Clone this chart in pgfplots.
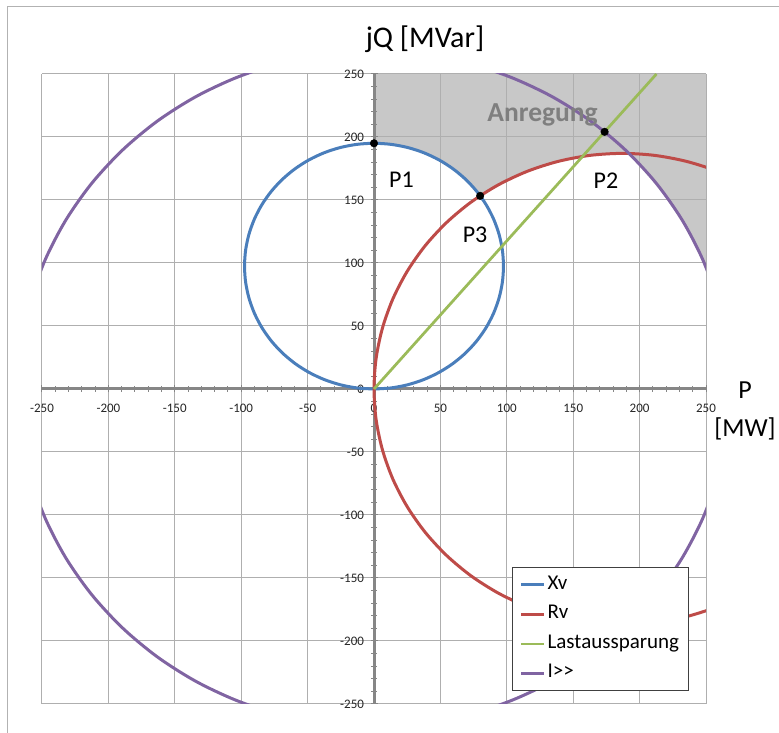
\documentclass[border=0pt]{standalone}
\usepackage{pgfplots}
\pgfplotsset{compat=1.18}
\usepackage{fontspec}
\setmainfont{Carlito}
\definecolor{xvblue}{RGB}{74,126,187}
\definecolor{rvred}{RGB}{190,75,72}
\definecolor{lgreen}{RGB}{155,187,89}
\definecolor{ipurple}{RGB}{128,100,162}
\definecolor{fillgray}{RGB}{200,200,200}
\definecolor{gridgray}{RGB}{175,175,175}
\definecolor{axgray}{RGB}{134,134,134}
\definecolor{anrgray}{RGB}{127,127,127}
\begin{document}
\begin{tikzpicture}
\begin{axis}[
  at={(0pt,0pt)}, anchor=south west,
  scale only axis, width=664pt, height=630pt,
  xmin=-250, xmax=250, ymin=-250, ymax=250,
  enlargelimits=false,
  set layers, clip mode=individual,
  axis lines=middle,
  axis line style={draw=axgray, line width=3pt, -},
  every inner x axis line/.append style={draw=axgray, line width=3pt, -},
  every inner y axis line/.append style={draw=axgray, line width=3pt, -},
  hide obscured x ticks=false, hide obscured y ticks=false,
  xtick={-250,-200,-150,-100,-50,0,50,100,150,200,250},
  ytick={-250,-200,-150,-100,-50,0,50,100,150,200,250},
  xticklabels={-250,-200,-150,-100,-50,0,50,100,150,200,250},
  yticklabels={-250,-200,-150,-100,-50,0,50,100,150,200,250},
  minor x tick num=4, minor y tick num=4,
  tick align=center, major tick length=7pt, minor tick length=6pt,
  tick style={axgray, line width=1pt},
  grid=major, major grid style={draw=gridgray, line width=1pt},
  ticklabel style={font=\fontsize{13}{15}\selectfont, text=black!85},
  xticklabel style={anchor=north, yshift=-8pt},
  yticklabel style={anchor=east, xshift=-3pt},
  legend style={at={(0.708,0.2175)}, anchor=north west, draw=black!75, line width=1pt,
    fill=white, font=\fontsize{21}{25}\selectfont, row sep=6.5pt,
    inner xsep=7pt, inner ysep=6pt,
    nodes={inner sep=2pt, text height=14pt, text depth=5pt}},
  legend cell align=left,
  legend image code/.code={\draw[#1] (0pt,0pt) -- (23pt,0pt);},
]
% shaded "Anregung" region
\addplot[on layer=axis background, fill=fillgray, draw=none, forget plot] coordinates {
 (0,250) (0,195) (12.73,194.17) (25.23,191.68) (37.31,187.58) (48.75,181.94)
 (59.35,174.85) (68.94,166.44) (77.35,156.85) (79.93,153.3)
 (93.5,161.94) (115.44,172.77) (138.60,180.62) (162.59,185.40) (187,187) (192.04,186.93)
 (202.26,175.83) (212.62,163.15) (232.09,134) (247.60,102.56) (250,96.56) (250,250)
} -- cycle;
% Xv
\addplot[xvblue, line width=3pt, smooth] coordinates {
 (0,0) (12.73,0.83) (25.23,3.32) (37.31,7.42) (48.75,13.06) (59.35,20.15) (68.94,28.56)
 (77.35,38.15) (84.44,48.75) (90.08,60.19) (94.18,72.27) (96.67,84.77) (97.5,97.5)
 (96.67,110.23) (94.18,122.73) (90.08,134.81) (84.44,146.25) (77.35,156.85) (68.94,166.44)
 (59.35,174.85) (48.75,181.94) (37.31,187.58) (25.23,191.68) (12.73,194.17) (0,195)
 (-12.73,194.17) (-25.23,191.68) (-37.31,187.58) (-48.75,181.94) (-59.35,174.85) (-68.94,166.44)
 (-77.35,156.85) (-84.44,146.25) (-90.08,134.81) (-94.18,122.73) (-96.67,110.23) (-97.5,97.5)
 (-96.67,84.77) (-94.18,72.27) (-90.08,60.19) (-84.44,48.75) (-77.35,38.15) (-68.94,28.56)
 (-59.35,20.15) (-48.75,13.06) (-37.31,7.42) (-25.23,3.32) (-12.73,0.83) (0,0)
};
\addlegendentry{Xv}
% Rv
\addplot[rvred, line width=3pt, smooth] coordinates {
 (280.5,161.94) (258.56,172.77) (235.40,180.62) (211.41,185.40) (187,187) (162.59,185.40)
 (138.60,180.62) (115.44,172.77) (93.5,161.94) (73.16,148.36) (54.77,132.23) (38.64,113.84)
 (25.06,93.5) (14.23,71.56) (6.38,48.40) (1.60,24.41) (0,0)
 (1.60,-24.41) (6.38,-48.40) (14.23,-71.56) (25.06,-93.5) (38.64,-113.84) (54.77,-132.23)
 (73.16,-148.36) (93.5,-161.94) (115.44,-172.77) (138.60,-180.62) (162.59,-185.40) (187,-187)
 (211.41,-185.40) (235.40,-180.62) (258.56,-172.77) (280.5,-161.94)
};
\addlegendentry{Rv}
% Lastaussparung
\addplot[lgreen, line width=2.75pt] coordinates {(0,0) (212.7,250)};
\addlegendentry{Lastaussparung}
% I>>
\addplot[ipurple, line width=3pt, smooth] coordinates {
 (268,0) (265.71,34.98) (258.86,69.36) (247.60,102.56) (232.09,134) (212.62,163.15)
 (189.50,189.50) (163.15,212.62) (134,232.09) (102.56,247.60) (69.36,258.86) (34.98,265.71)
 (0,268) (-34.98,265.71) (-69.36,258.86) (-102.56,247.60) (-134,232.09) (-163.15,212.62)
 (-189.50,189.50) (-212.62,163.15) (-232.09,134) (-247.60,102.56) (-258.86,69.36) (-265.71,34.98)
 (-268,0) (-265.71,-34.98) (-258.86,-69.36) (-247.60,-102.56) (-232.09,-134) (-212.62,-163.15)
 (-189.50,-189.50) (-163.15,-212.62) (-134,-232.09) (-102.56,-247.60) (-69.36,-258.86) (-34.98,-265.71)
 (0,-268) (34.98,-265.71) (69.36,-258.86) (102.56,-247.60) (134,-232.09) (163.15,-212.62)
 (189.50,-189.50) (212.62,-163.15) (232.09,-134) (247.60,-102.56) (258.86,-69.36) (265.71,-34.98) (268,0)
};
\addlegendentry{I>{}>}
% points
\addplot[only marks, mark=*, mark size=3.8pt, black, forget plot] coordinates {
 (0,195) (79.93,153.3) (173.65,204.1)
};
\node[anchor=base, font=\fontsize{24}{27}\selectfont] at (axis cs:20.7,160.3) {P1};
\node[anchor=base, font=\fontsize{24}{27}\selectfont] at (axis cs:76.1,115.9) {P3};
\node[anchor=base, font=\fontsize{24}{27}\selectfont] at (axis cs:174.7,159.5) {P2};
\node[anchor=base, font=\bfseries\fontsize{27.5}{31}\selectfont, text=anrgray] at (axis cs:126.9,211.9) {Anregung};
\end{axis}
\node[anchor=base, font=\fontsize{30}{34}\selectfont] at (383pt,656pt) {jQ [MVar]};
\node[anchor=base, font=\fontsize{26}{30}\selectfont] at (703pt,305pt) {P};
\node[anchor=base, font=\fontsize{26}{30}\selectfont] at (703pt,267pt) {[MW]};
\draw[gray!60, line width=1pt] (-34pt,-29pt) -- (-34pt,697pt) -- (737pt,697pt);
\pgfresetboundingbox
\path (-42pt,-29pt) rectangle (737pt,704pt);
\end{tikzpicture}
\end{document}
